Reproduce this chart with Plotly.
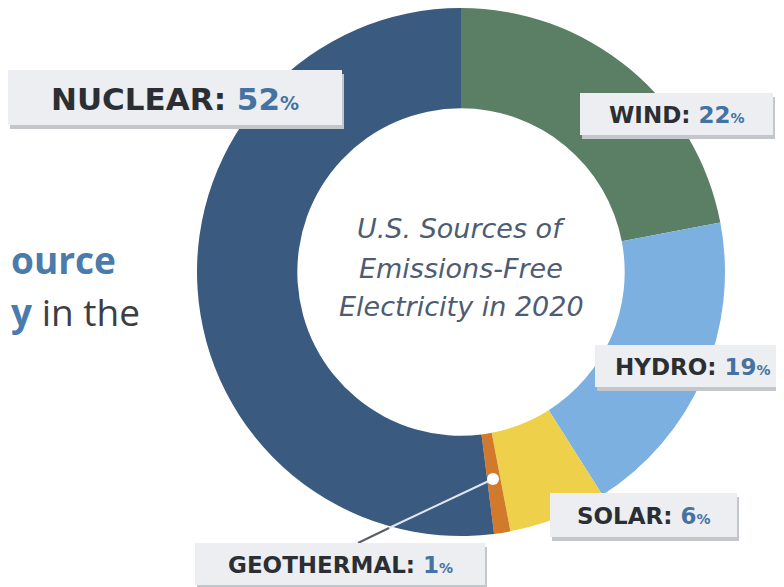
import plotly.graph_objects as go

# page has an 8px body margin, so the figure is 776x579 starting at (8, 8)
OFF = 8
W, H = 776, 579

# ---- data ----
sources = ["WIND", "HYDRO", "SOLAR", "GEOTHERMAL", "NUCLEAR"]
shares = [22, 19, 6, 1, 52]
colors = ["#5a7f64", "#7bb0e0", "#eed04a", "#d27a2c", "#3a5a7f"]
center_lines = ["U.S. Sources of", "Emissions-Free", "Electricity in 2020"]


def px(x):
    return (x - OFF) / W


def py(y):
    return 1 - (y - OFF) / H


# donut geometry (window pixels)
cx, cy, R = 461, 272, 264

fig = go.Figure()
fig.add_trace(go.Pie(
    labels=sources, values=shares, sort=False, direction="clockwise", rotation=0,
    hole=0.62, textinfo="none", hoverinfo="label+percent",
    marker=dict(colors=colors, line=dict(width=0)),
    domain=dict(x=[px(cx - R), px(cx + R)], y=[py(cy + R), py(cy - R)]),
    showlegend=False,
))

shapes = []
annotations = []

# label boxes: (source index, box x0, y0, x1, y1, font size)
boxes = [
    (4, 8, 70, 342, 125, 31),
    (0, 580, 93, 773, 135, 23),
    (1, 595, 345, 790, 387, 23),
    (2, 550, 493, 737, 537, 23),
    (3, 195, 543, 485, 585, 23),
]

# leader line for geothermal
shapes.append(dict(type="line", xref="paper", yref="paper",
                   x0=px(493), y0=py(479), x1=px(389), y1=py(528),
                   line=dict(color="#dfe8f1", width=2)))
shapes.append(dict(type="line", xref="paper", yref="paper",
                   x0=px(389), y0=py(528), x1=px(358), y1=py(543),
                   line=dict(color="#5a5f66", width=2)))
shapes.append(dict(type="circle", xref="paper", yref="paper",
                   x0=px(487), y0=py(473), x1=px(499), y1=py(485),
                   fillcolor="#ffffff", line=dict(width=0)))

for i, x0, y0, x1, y1, fs in boxes:
    shapes.append(dict(type="rect", xref="paper", yref="paper",
                       x0=px(x0 + 2), y0=py(y0 + 4), x1=px(x1 + 2), y1=py(y1 + 4),
                       fillcolor="#c3c7cc", line=dict(width=0)))
    shapes.append(dict(type="rect", xref="paper", yref="paper",
                       x0=px(x0), y0=py(y0), x1=px(x1), y1=py(y1),
                       fillcolor="#eceef1", line=dict(width=0)))
    txt = (f"{sources[i]}: <span style='color:#4473a2'>{shares[i]}"
           f"<span style='font-size:{int(fs*0.62)}px'>%</span></span>")
    annotations.append(dict(
        x=px((x0 + x1) / 2), y=py((y0 + y1) / 2 + 1), xref="paper", yref="paper",
        text=txt, showarrow=False, xanchor="center", yanchor="middle",
        font=dict(family="DejaVu Sans", size=fs, color="#2b2e33", weight=700),
    ))

# centre title, one annotation per line for the wide line spacing
for line, yy in zip(center_lines, [228, 268, 306]):
    annotations.append(dict(
        x=px(cx), y=py(yy), xref="paper", yref="paper",
        text=line, showarrow=False,
        xanchor="center", yanchor="middle", align="center",
        font=dict(family="DejaVu Sans", size=27, color="#4d5c73", style="italic"),
    ))

# text fragments from the left page edge
annotations.append(dict(
    x=px(9), y=py(259), xref="paper", yref="paper", text="ource",
    showarrow=False, xanchor="left", yanchor="middle",
    font=dict(family="Open Sans", size=37, color="#4a7bab", weight=700),
))
annotations.append(dict(
    x=px(9), y=py(311), xref="paper", yref="paper",
    text="<span style='color:#4a7bab;font-weight:bold'>y</span> in the",
    showarrow=False, xanchor="left", yanchor="middle",
    font=dict(family="Open Sans", size=37, color="#3b3e44"),
))

fig.update_layout(
    width=W, height=H, margin=dict(l=0, r=0, t=0, b=0),
    paper_bgcolor="#ffffff", plot_bgcolor="#ffffff",
    shapes=shapes, annotations=annotations,
)

fig.write_html("out.html")
